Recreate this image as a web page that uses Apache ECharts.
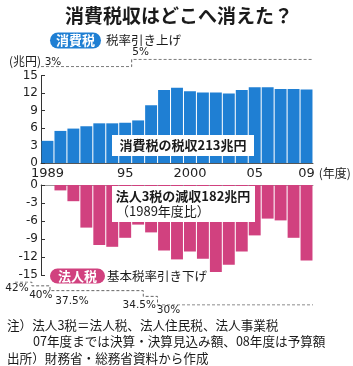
<!DOCTYPE html>
<html>
<head>
<meta charset="utf-8">
<script src="https://cdn.jsdelivr.net/npm/echarts@6/dist/echarts.min.js"></script>
<style>
  html, body { margin: 0; background: #fff; }
  #main { width: 353px; height: 366px; }
</style>
</head>
<body>
<div id="main"></div>
<script>
const dom = document.getElementById('main');
const myChart = echarts.init(dom);

// fiscal years and which ones get a tick label
const years = ['1989', '1990', '1991', '1992', '1993', '1994', '1995', '1996', '1997', '1998', '1999',
  '2000', '2001', '2002', '2003', '2004', '2005', '2006', '2007', '2008', '2009'];
const yearLabels = { '1989': '1989', '1995': '95', '2000': '2000', '2005': '05', '2009': '09' };

// consumption tax revenue (trillion yen)
const consumption = [3.8, 5.5, 5.9, 6.3, 6.8, 6.8, 6.9, 7.3, 9.9, 12.5, 12.9,
  12.3, 12.1, 12.1, 11.9, 12.5, 13.0, 13.0, 12.7, 12.7, 12.6];
// decrease of 3 corporate taxes vs FY1989 (trillion yen)
const corpDecrease = [0, -0.9, -2.7, -7.1, -10.0, -10.3, -8.8, -6.6, -7.9, -10.9, -12.4,
  -11.1, -12.3, -14.5, -13.3, -11.1, -8.4, -5.6, -5.9, -8.8, -12.6];

// tax rate steps (x = position on the year scale where each rate starts)
const consRateX = [1988.5, 1995.5, 2009.5];
const consRates = [3, 5, 5];
const corpRateX = [1986.5, 1987.8, 1989.2, 1996.4, 1997.5, 2009.5];
const corpRates = [42, 40, 37.5, 34.5, 30, 30];

// label nudges for the rate labels (style only)
const consLabelOffset = [[12, 1], [9, -1]];
const corpLabelOffset = [[2, 1], [9, 4], [22, 5], [-4, 3], [11, 0]];

const BLUE = '#1f7fd3';
const PINK = '#d1417f';
const NUM = 'DejaVu Sans';
const JP = '"Noto Sans CJK JP", sans-serif';

const rateSeries = (xs, rates, offsets, pos, xi) => ({
  type: 'line',
  xAxisIndex: xi,
  yAxisIndex: xi,
  step: 'end',
  symbol: 'circle',
  symbolSize: 0.1,
  itemStyle: { color: 'rgba(0,0,0,0)' },
  lineStyle: { color: '#666', width: 1, type: [3, 2] },
  silent: true,
  data: xs.map((x, i) => ({
    value: [x, rates[i]],
    label: i < offsets.length ? {
      show: true, position: pos, distance: 0, offset: offsets[i],
      formatter: rates[i] + '%', fontFamily: NUM, fontSize: 10.5, color: '#222'
    } : { show: false }
  }))
});

const hiddenValueAxis = (min, max) => ({
  type: 'value', min: min, max: max, show: false
});

const option = {
  animation: false,
  title: {
    text: '消費税収はどこへ消えた？',
    left: 60, top: 1,
    textStyle: { fontFamily: JP, fontSize: 19, fontWeight: 'bold', color: '#1a1a1a' }
  },
  grid: [
    { left: 41, right: 40, top: 75.5, height: 87.5 },
    { left: 41, right: 40, top: 185, height: 90 },
    { left: 41, right: 40, top: 59.3, height: 7.4 },
    { left: 15, right: 40, top: 282, height: 23 }
  ],
  xAxis: [
    {
      gridIndex: 0, type: 'category', data: years,
      name: '(年度)', nameLocation: 'end', nameGap: -2,
      nameTextStyle: { fontFamily: JP, fontSize: 12, color: '#222', verticalAlign: 'top', padding: [4, 0, 0, 0] },
      axisLine: { lineStyle: { color: '#555', width: 1 } },
      axisTick: { show: false },
      axisLabel: {
        interval: 0, margin: 4, fontFamily: NUM, fontSize: 13, color: '#222',
        formatter: (v) => yearLabels[v] || ''
      }
    },
    {
      gridIndex: 1, type: 'category', data: years,
      axisLine: { onZero: true, lineStyle: { color: '#999', width: 1 } },
      axisTick: { show: false },
      axisLabel: { show: false }
    },
    Object.assign({ gridIndex: 2 }, hiddenValueAxis(1988.5, 2009.5)),
    Object.assign({ gridIndex: 3 }, hiddenValueAxis(1986.5, 2009.5))
  ],
  yAxis: [
    {
      gridIndex: 0, type: 'value', min: 0, max: 15, interval: 3,
      name: '(兆円)', nameLocation: 'end', nameGap: 8,
      nameTextStyle: { fontFamily: JP, fontSize: 12, color: '#222', align: 'right' },
      axisLine: { show: true, lineStyle: { color: '#333', width: 1 } },
      axisTick: { show: true, inside: true, length: 4, lineStyle: { color: '#333' } },
      axisLabel: { margin: 3, fontFamily: NUM, fontSize: 12, color: '#222' },
      splitLine: { show: false }
    },
    {
      gridIndex: 1, type: 'value', min: -15, max: 0, interval: 3,
      axisLine: { show: true, lineStyle: { color: '#333', width: 1 } },
      axisTick: { show: true, inside: true, length: 4, lineStyle: { color: '#333' } },
      axisLabel: { margin: 3, fontFamily: NUM, fontSize: 12, color: '#222' },
      splitLine: { show: false }
    },
    Object.assign({ gridIndex: 2 }, hiddenValueAxis(3, 5)),
    Object.assign({ gridIndex: 3 }, hiddenValueAxis(30, 42))
  ],
  series: [
    {
      type: 'bar', xAxisIndex: 0, yAxisIndex: 0,
      barCategoryGap: '8%',
      itemStyle: { color: BLUE },
      data: consumption
    },
    {
      type: 'bar', xAxisIndex: 1, yAxisIndex: 1,
      barCategoryGap: '8%',
      itemStyle: { color: PINK },
      data: corpDecrease
    },
    rateSeries(consRateX, consRates, consLabelOffset, 'top', 2),
    rateSeries(corpRateX, corpRates, corpLabelOffset, 'bottom', 3)
  ],
  graphic: [
    // consumption tax badge
    { type: 'rect', shape: { x: 50, y: 32.5, width: 51, height: 16, r: 8 }, style: { fill: BLUE } },
    { type: 'text', style: { text: '消費税', x: 75.5, y: 40.5, align: 'center', verticalAlign: 'middle',
      font: 'bold 13px "Noto Sans CJK JP"', fill: '#fff' } },
    { type: 'text', style: { text: '税率引き上げ', x: 106, y: 40.5, verticalAlign: 'middle',
      font: '12.5px "Noto Sans CJK JP"', fill: '#1a1a1a' } },
    // corporate tax badge
    { type: 'rect', shape: { x: 50, y: 268.5, width: 55, height: 15, r: 7.5 }, style: { fill: PINK } },
    { type: 'text', style: { text: '法人税', x: 77.5, y: 276, align: 'center', verticalAlign: 'middle',
      font: 'bold 13px "Noto Sans CJK JP"', fill: '#fff' } },
    { type: 'text', style: { text: '基本税率引き下げ', x: 107, y: 276, verticalAlign: 'middle',
      font: '12.5px "Noto Sans CJK JP"', fill: '#1a1a1a' } },
    // white annotation boxes
    { type: 'rect', z: 10, shape: { x: 112, y: 135, width: 142, height: 21 }, style: { fill: '#fff' } },
    { type: 'text', z: 11, style: { text: '消費税の税収213兆円', x: 183, y: 145.5, align: 'center', verticalAlign: 'middle',
      font: 'bold 13px "Noto Sans CJK JP"', fill: '#1a1a1a' } },
    { type: 'rect', z: 10, shape: { x: 112, y: 186, width: 143, height: 36 }, style: { fill: '#fff' } },
    { type: 'text', z: 11, style: { text: '法人3税の減収182兆円', x: 183, y: 196.5, align: 'center', verticalAlign: 'middle',
      font: 'bold 13px "Noto Sans CJK JP"', fill: '#1a1a1a' } },
    { type: 'text', z: 11, style: { text: '（1989年度比）', x: 116, y: 211.5, verticalAlign: 'middle',
      font: '13px "Noto Sans CJK JP"', fill: '#1a1a1a' } },
    // notes
    { type: 'text', style: { text: '注）法人3税＝法人税、法人住民税、法人事業税', x: 7, y: 325.5, verticalAlign: 'middle',
      font: '12.6px "Noto Sans CJK JP"', fill: '#1a1a1a' } },
    { type: 'text', style: { text: '07年度までは決算・決算見込み額、08年度は予算額', x: 33, y: 341.5, verticalAlign: 'middle',
      font: '12.6px "Noto Sans CJK JP"', fill: '#1a1a1a' } },
    { type: 'text', style: { text: '出所）財務省・総務省資料から作成', x: 7, y: 358, verticalAlign: 'middle',
      font: '12.6px "Noto Sans CJK JP"', fill: '#1a1a1a' } }
  ]
};

myChart.setOption(option);

window.addEventListener('resize', myChart.resize);
</script>
</body>
</html>
